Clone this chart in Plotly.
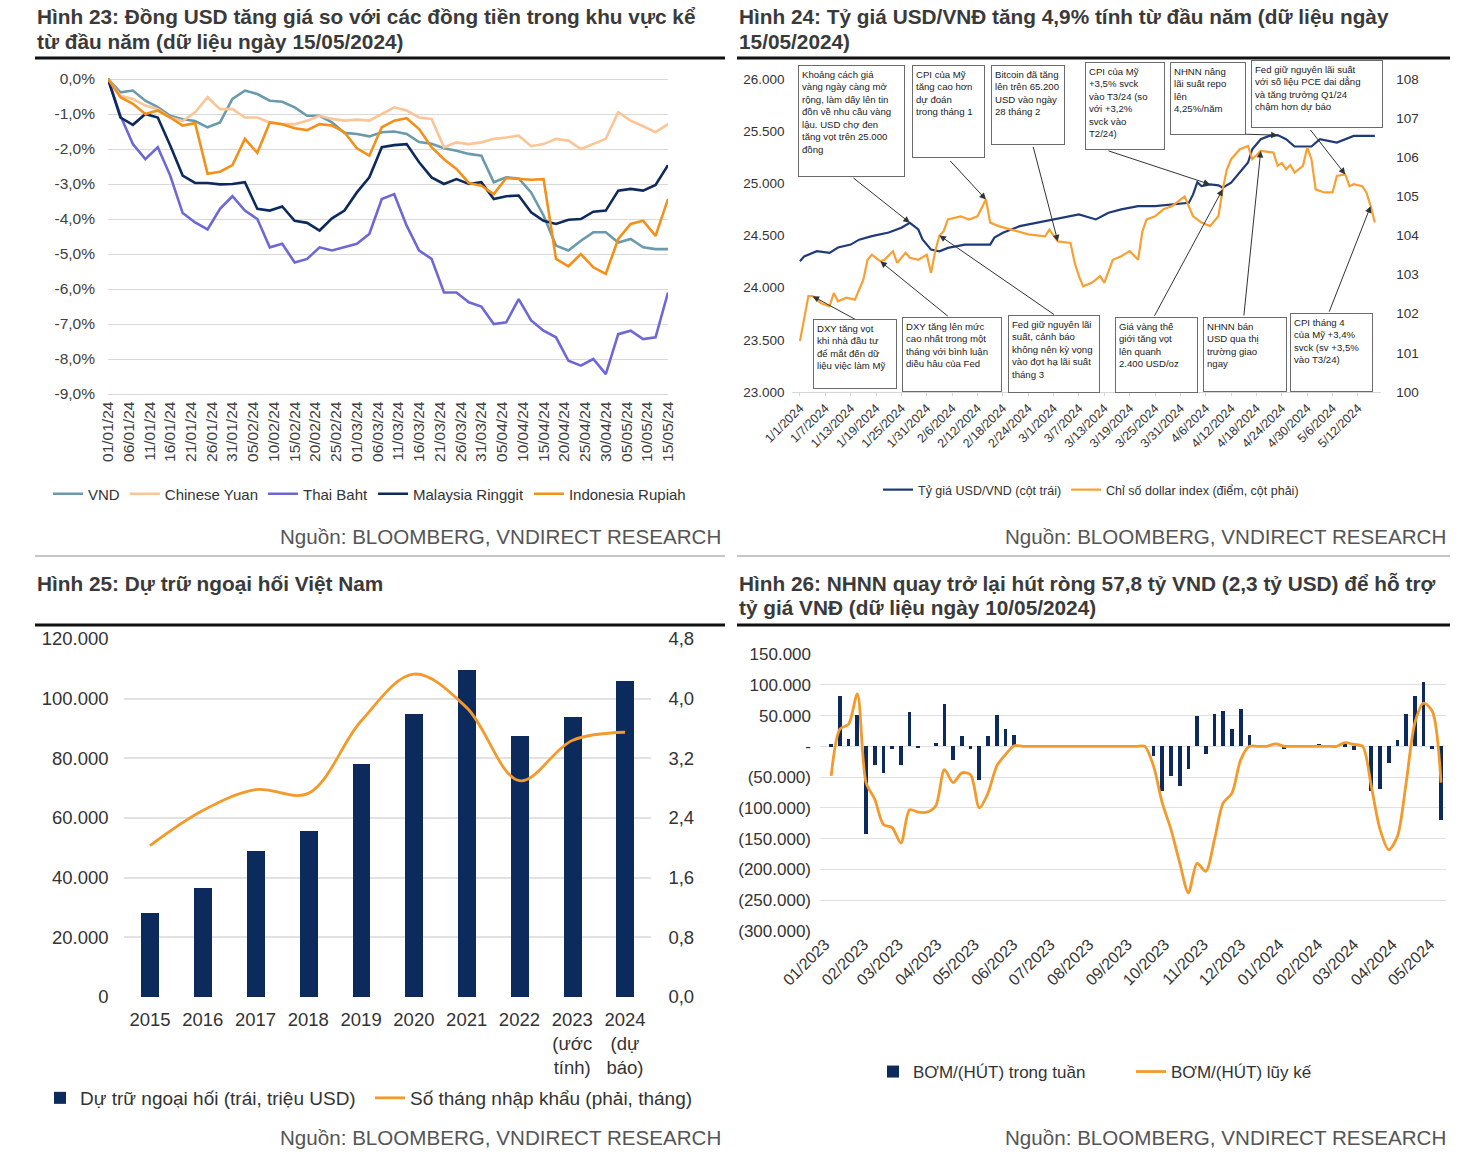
import plotly.graph_objects as go
import pandas as pd

W, H = 1480, 1154


def px(x):
    return x / W


def py(y):
    return 1 - y / H


FONT = "Liberation Sans, Arial, sans-serif"
TXT = "#3a3a3a"

# ---------------- Panel 1 (Hình 23) ----------------
p1_dates = pd.date_range("2024-01-01", periods=46, freq="3D").strftime("%Y-%m-%d").tolist()
vnd = [0, -0.38, -0.33, -0.62, -0.8, -1.05, -1.15, -1.2, -1.38, -1.24, -0.57, -0.33, -0.43, -0.62,
       -0.65, -0.81, -1.05, -1.05, -1.24, -1.54, -1.57, -1.64, -1.52, -1.5, -1.57, -1.8, -1.85,
       -1.98, -2.05, -2.14, -2.19, -2.95, -2.81, -2.84, -3.24, -3.9, -4.76, -4.9, -4.62, -4.38,
       -4.38, -4.67, -4.57, -4.81, -4.86, -4.86]
cny = [0, -0.48, -0.57, -0.76, -0.86, -1.1, -1.2, -0.95, -0.52, -0.86, -0.86, -1.1, -1.1, -1.24,
       -1.29, -1.29, -1.19, -1.05, -1.14, -1.19, -1.16, -1.19, -1.0, -0.81, -0.9, -1.1, -1.14,
       -1.95, -1.81, -1.86, -1.81, -1.71, -1.67, -1.62, -1.92, -1.86, -1.71, -1.76, -2.0, -1.86,
       -1.71, -0.95, -1.19, -1.35, -1.52, -1.29]
thb = [0, -1.05, -1.86, -2.29, -1.95, -2.76, -3.83, -4.1, -4.3, -3.71, -3.35, -3.76, -4.0, -4.81,
       -4.71, -5.24, -5.14, -4.81, -4.9, -4.81, -4.71, -4.43, -3.43, -3.29, -4.19, -4.9, -5.14,
       -6.1, -6.1, -6.38, -6.5, -7.0, -6.95, -6.29, -6.9, -7.19, -7.38, -8.05, -8.19, -8.0, -8.43,
       -7.29, -7.19, -7.43, -7.38, -6.1]
myr = [0, -1.1, -1.31, -1.0, -1.1, -1.9, -2.76, -2.97, -2.97, -3.01, -3.0, -2.95, -3.71, -3.76,
       -3.64, -4.05, -4.11, -4.33, -3.98, -3.76, -3.24, -2.81, -1.95, -1.89, -1.86, -2.38, -2.81,
       -3.0, -2.86, -3.0, -2.95, -3.43, -3.35, -3.33, -3.81, -4.05, -4.14, -4.02, -4.0, -3.79,
       -3.76, -3.19, -3.14, -3.19, -3.03, -2.46]
idr = [0, -0.52, -0.71, -1.0, -0.9, -1.1, -1.33, -1.26, -2.71, -2.65, -2.46, -1.71, -2.11, -1.24,
       -1.29, -1.41, -1.46, -1.29, -1.33, -1.52, -1.98, -2.19, -1.38, -1.19, -1.12, -1.43, -1.95,
       -2.29, -2.57, -2.97, -3.05, -3.29, -2.83, -2.86, -2.88, -2.86, -5.14, -5.35, -5.0, -5.38,
       -5.57, -4.57, -4.14, -4.05, -4.48, -3.43]
p1_names = ["VND", "Chinese Yuan", "Thai Baht", "Malaysia Ringgit", "Indonesia Rupiah"]
p1_colors = ["#6a9aab", "#fcc596", "#6d68d6", "#0d2a5e", "#f39019"]
p1_yticks = [0, -1, -2, -3, -4, -5, -6, -7, -8, -9]
p1_yticklabels = ["0,0%", "-1,0%", "-2,0%", "-3,0%", "-4,0%", "-5,0%", "-6,0%", "-7,0%", "-8,0%", "-9,0%"]

# ---------------- Panel 2 (Hình 24) ----------------
usdvnd_dates = ["2024-01-01", "2024-01-02", "2024-01-05", "2024-01-08", "2024-01-10", "2024-01-13",
                "2024-01-15", "2024-01-18", "2024-01-22", "2024-01-25", "2024-01-27", "2024-01-29",
                "2024-01-30", "2024-02-01", "2024-02-03", "2024-02-05", "2024-02-09", "2024-02-15",
                "2024-02-16", "2024-02-18", "2024-02-22", "2024-02-26", "2024-03-01", "2024-03-05",
                "2024-03-07", "2024-03-11", "2024-03-14", "2024-03-17", "2024-03-21", "2024-03-25",
                "2024-03-29", "2024-04-02", "2024-04-03", "2024-04-04", "2024-04-05", "2024-04-07",
                "2024-04-09", "2024-04-10", "2024-04-12", "2024-04-14", "2024-04-16", "2024-04-17",
                "2024-04-19", "2024-04-21", "2024-04-23", "2024-04-25", "2024-04-27", "2024-05-01",
                "2024-05-03", "2024-05-07", "2024-05-11", "2024-05-16"]
usdvnd = [24253, 24300, 24349, 24334, 24385, 24413, 24460, 24494, 24529, 24575, 24622, 24558,
          24462, 24365, 24349, 24381, 24413, 24413, 24480, 24526, 24590, 24622, 24654, 24686,
          24702, 24654, 24718, 24750, 24782, 24782, 24798, 24814, 24894, 25010, 24974, 24990,
          24981, 24958, 25006, 25103, 25199, 25327, 25423, 25455, 25462, 25423, 25353, 25353,
          25423, 25391, 25455, 25455]
dxy_dates = ["2024-01-01", "2024-01-02", "2024-01-03", "2024-01-04", "2024-01-05", "2024-01-06",
             "2024-01-08", "2024-01-09", "2024-01-10", "2024-01-12", "2024-01-14", "2024-01-16",
             "2024-01-17", "2024-01-18", "2024-01-20", "2024-01-21", "2024-01-23", "2024-01-24",
             "2024-01-26", "2024-01-27", "2024-01-29", "2024-01-31", "2024-02-01", "2024-02-02",
             "2024-02-03", "2024-02-04", "2024-02-05", "2024-02-08", "2024-02-10", "2024-02-12",
             "2024-02-14", "2024-02-15", "2024-02-17", "2024-02-20", "2024-02-24", "2024-02-28",
             "2024-02-29", "2024-03-02", "2024-03-05", "2024-03-06", "2024-03-07", "2024-03-08",
             "2024-03-10", "2024-03-11", "2024-03-12", "2024-03-13", "2024-03-15", "2024-03-17",
             "2024-03-19", "2024-03-21", "2024-03-22", "2024-03-23", "2024-03-25", "2024-03-27",
             "2024-03-29", "2024-04-01", "2024-04-03", "2024-04-05", "2024-04-07", "2024-04-09",
             "2024-04-10", "2024-04-11", "2024-04-12", "2024-04-14", "2024-04-16", "2024-04-17",
             "2024-04-19", "2024-04-22", "2024-04-23", "2024-04-24", "2024-04-25", "2024-04-26",
             "2024-04-27", "2024-04-29", "2024-04-30", "2024-05-01", "2024-05-02", "2024-05-04",
             "2024-05-06", "2024-05-07", "2024-05-09", "2024-05-10", "2024-05-11", "2024-05-13",
             "2024-05-14", "2024-05-15", "2024-05-16"]
dxy = [101.3, 101.9, 102.45, 102.45, 102.36, 102.27, 102.19, 102.53, 102.32, 102.41, 102.36,
       102.87, 103.38, 103.51, 103.34, 103.38, 103.6, 103.3, 103.56, 103.43, 103.38, 103.51,
       103.04, 103.6, 104.0, 104.11, 104.41, 104.49, 104.41, 104.49, 104.92, 104.33, 104.24,
       104.15, 104.03, 103.98, 104.15, 103.85, 103.81, 103.3, 102.96, 102.7, 102.79, 102.87,
       102.96, 102.79, 103.38, 103.47, 103.6, 103.38, 104.1, 104.41, 104.49, 104.67, 104.75,
       105.0, 104.49, 104.33, 104.24, 104.5, 105.18, 105.69, 105.95, 106.2, 106.29, 105.95,
       106.16, 106.12, 105.78, 105.85, 105.69, 105.8, 105.61, 105.78, 106.25, 105.95, 105.18,
       105.1, 105.1, 105.52, 105.56, 105.26, 105.31, 105.26, 105.1, 104.75, 104.33]
p2_left_ticks = [23000, 23500, 24000, 24500, 25000, 25500, 26000]
p2_left_labels = ["23.000", "23.500", "24.000", "24.500", "25.000", "25.500", "26.000"]
p2_right_ticks = [100, 101, 102, 103, 104, 105, 106, 107, 108]

# (tip series, tip date, arrow offset px, box x, box y, box w, box h, text)
p2_notes = [
    ("vnd", "2024-01-27", -58, -46, 798, 65, 107, 112,
     "Khoảng cách giá<br>vàng ngày càng mở<br>rộng, làm dấy lên tin<br>đồn về nhu cầu vàng<br>lậu. USD chợ đen<br>tăng vọt trên 25.000<br>đồng"),
    ("dxy", "2024-02-14", -37, -40, 912, 65, 73, 93,
     "CPI của Mỹ<br>tăng cao hơn<br>dự đoán<br>trong tháng 1"),
    ("dxy", "2024-03-02", -25, -96, 991, 65, 74, 80,
     "Bitcoin đã tăng<br>lên trên 65.200<br>USD vào ngày<br>28 tháng 2"),
    ("vnd", "2024-04-07", -103, -34, 1085, 62, 80, 88,
     "CPI của Mỹ<br>+3,5% svck<br>vào T3/24 (so<br>với +3,2%<br>svck vào<br>T2/24)"),
    ("vnd", "2024-04-23", -35, -1, 1170, 62, 76, 73,
     "NHNN nâng<br>lãi suất repo<br>lên<br>4,25%/năm"),
    ("dxy", "2024-05-09", -36, -46, 1251, 60, 132, 68,
     "Fed giữ nguyên lãi suất<br>với số liệu PCE dai dẳng<br>và tăng trưởng Q1/24<br>chậm hơn dự báo"),
    ("dxy", "2024-01-04", 44, 24, 813, 319, 84, 70,
     "DXY tăng vọt<br>khi nhà đầu tư<br>để mắt đến dữ<br>liệu việc làm Mỹ"),
    ("dxy", "2024-01-20", 69, 56, 902, 317, 100, 75,
     "DXY tăng lên mức<br>cao nhất trong một<br>tháng với bình luận<br>diều hâu của Fed"),
    ("dxy", "2024-02-03", 116, 80, 1008, 315, 92, 78,
     "Fed giữ nguyên lãi<br>suất, cảnh báo<br>không nên kỳ vọng<br>vào đợt hạ lãi suất<br>tháng 3"),
    ("dxy", "2024-04-10", -69, 128, 1115, 317, 83, 76,
     "Giá vàng thế<br>giới tăng vọt<br>lên quanh<br>2.400 USD/oz"),
    ("dxy", "2024-04-19", -17, 166, 1203, 317, 84, 75,
     "NHNN bán<br>USD qua thị<br>trường giao<br>ngay"),
    ("dxy", "2024-05-15", -42, 107, 1290, 313, 83, 79,
     "CPI tháng 4<br>của Mỹ +3,4%<br>svck (sv +3,5%<br>vào T3/24)"),
]

# ---------------- Panel 3 (Hình 25) ----------------
years = ["2015", "2016", "2017", "2018", "2019", "2020", "2021", "2022", "2023", "2024"]
year_labels = ["2015", "2016", "2017", "2018", "2019", "2020", "2021", "2022",
               "2023<br>(ước<br>tính)", "2024<br>(dự<br>báo)"]
reserves = [28000, 36500, 49000, 55500, 78000, 95000, 109500, 87500, 93700, 106000]
import_months = [2.03, 2.5, 2.78, 2.73, 3.7, 4.33, 3.88, 2.9, 3.44, 3.55]
p3_left_ticks = [0, 20000, 40000, 60000, 80000, 100000, 120000]
p3_left_labels = ["0", "20.000", "40.000", "60.000", "80.000", "100.000", "120.000"]
p3_right_ticks = [0, 0.8, 1.6, 2.4, 3.2, 4.0, 4.8]
p3_right_labels = ["0,0", "0,8", "1,6", "2,4", "3,2", "4,0", "4,8"]

# ---------------- Panel 4 (Hình 26) ----------------
weeks = pd.date_range("2023-01-06", periods=71, freq="7D").strftime("%Y-%m-%d").tolist()
weekly_net = [3000, 81000, 12000, 51000, -143000, -31000, -43000, -4000, -30000, 55000,
              -3000, 0, 5000, 68000, -22000, 17000, -4000, -55000, 16000, 51000,
              28000, 18000, 0, 0, 0, 0, 0, 0, 0, 0,
              0, 0, 0, 0, 0, 0, 0, -16000, -73000, -48000,
              -65000, -37000, 50000, -12000, 53000, 58000, 28000, 61000, 18000, 0,
              0, 0, -4000, 0, 0, 0, 3000, 2000, 0, 3000,
              -6000, 0, -73000, -70000, -27000, 11000, 53000, 82000, 104000, -4000,
              -120000]
cumulative = [-48000, 28000, 36000, 85000, -59000, -86000, -127000, -132000, -157000, -103000,
              -107000, -107000, -97000, -38000, -59000, -43000, -46000, -100000, -76000, -32000,
              -13500, 1000, 0, 0, 0, 0, 0, 0, 0, 0,
              0, 0, 0, 0, 0, 0, 0, -32000, -92000, -135000,
              -189000, -238000, -190000, -203000, -151000, -92000, -76000, -22000, 0, 0,
              0, 4000, 0, 0, 0, 0, 0, 0, 0, 6000,
              3000, 0, -65000, -135000, -168000, -146000, -59000, 38000, 70000, 57000,
              -59000]
p4_ticks = [150000, 100000, 50000, 0, -50000, -100000, -150000, -200000, -250000, -300000]
p4_labels = ["150.000", "100.000", "50.000", "-", "(50.000)", "(100.000)", "(150.000)",
             "(200.000)", "(250.000)", "(300.000)"]

NAVY = "#0c2a5c"
ORANGE = "#f39a2b"

fig = go.Figure()

for name, vals, col in zip(p1_names, [vnd, cny, thb, myr, idr], p1_colors):
    fig.add_trace(go.Scatter(x=p1_dates, y=vals, mode="lines", name=name,
                             line=dict(color=col, width=2.6), xaxis="x", yaxis="y",
                             legend="legend"))

fig.add_trace(go.Scatter(x=usdvnd_dates, y=usdvnd, mode="lines", name="Tỷ giá USD/VND (cột trái)",
                         line=dict(color="#1f3a78", width=2.2), xaxis="x2", yaxis="y2",
                         legend="legend2"))
fig.add_trace(go.Scatter(x=dxy_dates, y=dxy, mode="lines",
                         name="Chỉ số dollar index (điểm, cột phải)",
                         line=dict(color="#f7a033", width=2.2), xaxis="x2", yaxis="y3",
                         legend="legend2"))

fig.add_trace(go.Bar(x=years, y=reserves, name="Dự trữ ngoại hối (trái, triệu USD)",
                     marker=dict(color=NAVY, line=dict(width=0)), width=0.34,
                     xaxis="x3", yaxis="y4", legend="legend3"))
fig.add_trace(go.Scatter(x=years, y=import_months, mode="lines",
                         name="Số tháng nhập khẩu (phải, tháng)",
                         line=dict(color=ORANGE, width=2.8, shape="spline", smoothing=1.0),
                         xaxis="x3", yaxis="y5", legend="legend3"))

fig.add_trace(go.Bar(x=weeks, y=weekly_net, name="BƠM/(HÚT) trong tuần",
                     marker=dict(color=NAVY, line=dict(width=0)), width=3 * 86400000,
                     xaxis="x4", yaxis="y6", legend="legend4"))
fig.add_trace(go.Scatter(x=weeks, y=cumulative, mode="lines", name="BƠM/(HÚT) lũy kế",
                         line=dict(color=ORANGE, width=2.8, shape="spline", smoothing=0.8),
                         xaxis="x4", yaxis="y6", legend="legend4"))

# ---------------- annotations ----------------
ann = []


def text(x, y, s, size, bold=False, anchor="left", color=TXT):
    ann.append(dict(xref="paper", yref="paper", x=px(x), y=py(y), xanchor=anchor,
                    yanchor="middle", showarrow=False,
                    text=f"<b>{s}</b>" if bold else s,
                    font=dict(family=FONT, size=size, color=color)))


TS = 20.8
text(35, 17, "Hình 23: Đồng USD tăng giá so với các đồng tiền trong khu vực kể", TS, True)
text(35, 41, "từ đầu năm (dữ liệu ngày 15/05/2024)", TS, True)
text(737, 17, "Hình 24: Tỷ giá USD/VNĐ tăng 4,9% tính từ đầu năm (dữ liệu ngày", TS, True)
text(737, 41, "15/05/2024)", TS, True)
text(35, 583, "Hình 25: Dự trữ ngoại hối Việt Nam", TS, True)
text(737, 583, "Hình 26: NHNN quay trở lại hút ròng 57,8 tỷ VND (2,3 tỷ USD) để hỗ trợ", TS, True)
text(737, 607, "tỷ giá VNĐ (dữ liệu ngày 10/05/2024)", TS, True)
for xr, yy in [(723, 536), (1448, 536), (723, 1137), (1448, 1137)]:
    text(xr, yy, "Nguồn: BLOOMBERG, VNDIRECT RESEARCH", 20.6, False, "right", "#555555")

vnd_lookup = dict(zip(usdvnd_dates, usdvnd))
dxy_lookup = dict(zip(dxy_dates, dxy))
for series, d, axo, ayo, bx, by, bw, bh, s in p2_notes:
    yv = vnd_lookup[d] if series == "vnd" else dxy_lookup[d]
    ann.append(dict(xref="x2", yref="y2" if series == "vnd" else "y3", x=d, y=yv,
                    ax=axo, ay=ayo, axref="pixel", ayref="pixel", text="", showarrow=True,
                    arrowhead=2, arrowsize=1.3, arrowwidth=1, arrowcolor="#333333",
                    standoff=0))
for series, d, axo, ayo, bx, by, bw, bh, s in p2_notes:
    ann.append(dict(xref="paper", yref="paper", x=px(bx), y=py(by), xanchor="left",
                    yanchor="top", width=bw - 8, height=bh - 8, text=s, align="left",
                    valign="top", showarrow=False, bgcolor="white", bordercolor="#6b6b6b",
                    borderwidth=1, borderpad=3,
                    font=dict(family=FONT, size=9.6, color="#222222")))

shapes = []
for x0, x1 in [(35, 725), (737, 1450)]:
    for yy in (58, 625):
        shapes.append(dict(type="line", xref="paper", yref="paper", x0=px(x0), x1=px(x1),
                           y0=py(yy), y1=py(yy), line=dict(color="#111111", width=3)))
    shapes.append(dict(type="line", xref="paper", yref="paper", x0=px(x0), x1=px(x1),
                       y0=py(556), y1=py(556), line=dict(color="#8c8c8c", width=1)))

tickf = lambda s, c="#404040": dict(family=FONT, size=s, color=c)

fig.update_layout(
    template="none",
    width=W, height=H, margin=dict(l=0, r=0, t=0, b=0, pad=0), autosize=False,
    paper_bgcolor="white", plot_bgcolor="white",
    font=dict(family=FONT, color=TXT),
    showlegend=True, hovermode=False,
    annotations=ann, shapes=shapes,
    # panel 1
    xaxis=dict(domain=[px(108), px(668)], anchor="y", type="date", automargin=False,
               range=["2024-01-01", "2024-05-15"], tick0="2024-01-01", dtick=5 * 86400000,
               tickformat="%d/%m/%y", tickangle=-90, tickfont=tickf(15.5), showgrid=False,
               zeroline=False, showline=False, ticks=""),
    yaxis=dict(domain=[py(397.5), py(75.5)], anchor="x", range=[-9.1, 0.1], automargin=False,
               tickvals=p1_yticks, ticktext=p1_yticklabels, tickfont=tickf(15.5),
               showgrid=True, gridcolor="#d9d9d9", gridwidth=1.3, zeroline=False,
               showline=False, ticks="", ticklabelstandoff=12),
    # panel 2
    xaxis2=dict(domain=[px(791.5), px(1381.2)], anchor="y2", type="date", automargin=False,
                range=["2023-12-30", "2024-05-17 12:00"], tick0="2024-01-01", dtick=6 * 86400000,
                tickformat="%-m/%-d/%Y", tickangle=-45, tickfont=tickf(12.5, "#333333"),
                showgrid=False, zeroline=False, showline=True, linecolor="#d6d6d6",
                ticks="outside", ticklen=3, tickcolor="#d6d6d6"),
    yaxis2=dict(domain=[py(392), py(79)], anchor="x2", range=[23000, 26000], automargin=False,
                tickvals=p2_left_ticks, ticktext=p2_left_labels, tickfont=tickf(13.5, "#333333"),
                showgrid=False, zeroline=False, showline=False, ticks="", ticklabelstandoff=6),
    yaxis3=dict(anchor="x2", overlaying="y2", side="right", range=[100, 108], automargin=False,
                tickvals=p2_right_ticks, tickfont=tickf(13.5, "#333333"), showgrid=False,
                zeroline=False, showline=False, ticks="", ticklabelstandoff=14),
    # panel 3
    xaxis3=dict(domain=[px(123.6), px(651.4)], anchor="y4", type="category", automargin=False,
                range=[-0.5, 9.5], tickvals=years, ticktext=year_labels,
                tickfont=tickf(18.5, "#333333"), showgrid=False, zeroline=False,
                showline=False, ticks="", ticklabelstandoff=9),
    yaxis4=dict(domain=[py(997), py(639)], anchor="x3", range=[0, 120000], automargin=False,
                tickvals=p3_left_ticks, ticktext=p3_left_labels, tickfont=tickf(18.5, "#333333"),
                showgrid=True, gridcolor="#e2e2e2", gridwidth=1.5, zeroline=False,
                showline=False, ticks="", ticklabelstandoff=14),
    yaxis5=dict(anchor="x3", overlaying="y4", side="right", range=[0, 4.8], automargin=False,
                tickvals=p3_right_ticks, ticktext=p3_right_labels,
                tickfont=tickf(18.5, "#333333"), showgrid=False, zeroline=False,
                showline=False, ticks="", ticklabelstandoff=16),
    # panel 4
    xaxis4=dict(domain=[px(820), px(1446)], anchor="y6", type="date", automargin=False,
                range=["2022-12-28", "2024-05-14"], tick0="2023-01-01", dtick="M1",
                tickformat="%m/%Y", tickangle=-45, tickfont=tickf(16, "#333333"),
                showgrid=False, zeroline=False, showline=False, ticks=""),
    yaxis6=dict(domain=[py(931), py(654)], anchor="x4", range=[-300000, 150000],
                automargin=False, tickvals=p4_ticks, ticktext=p4_labels,
                tickfont=tickf(17, "#333333"), showgrid=True, gridcolor="#e0e0e0",
                gridwidth=1.3, zeroline=False, showline=False, ticks="", ticklabelstandoff=8),
    legend=dict(x=px(48), y=py(494), xanchor="left", yanchor="middle", orientation="h",
                font=dict(family=FONT, size=15, color="#333333"), itemwidth=30,
                bgcolor="rgba(0,0,0,0)", tracegroupgap=0),
    legend2=dict(x=px(878), y=py(490), xanchor="left", yanchor="middle", orientation="h",
                 font=dict(family=FONT, size=12.5, color="#333333"), itemwidth=30,
                 bgcolor="rgba(0,0,0,0)"),
    legend3=dict(x=px(40), y=py(1098), xanchor="left", yanchor="middle", orientation="h",
                 font=dict(family=FONT, size=19, color="#333333"), itemwidth=30,
                 entrywidth=285, bgcolor="rgba(0,0,0,0)"),
    legend4=dict(x=px(873), y=py(1072), xanchor="left", yanchor="middle", orientation="h",
                 font=dict(family=FONT, size=17, color="#333333"), itemwidth=30,
                 entrywidth=213, bgcolor="rgba(0,0,0,0)"),
    bargap=0,
)

fig.write_html("out.html", config={"displayModeBar": False},
               post_script="document.body.style.margin='0';document.body.style.overflow='hidden';")
